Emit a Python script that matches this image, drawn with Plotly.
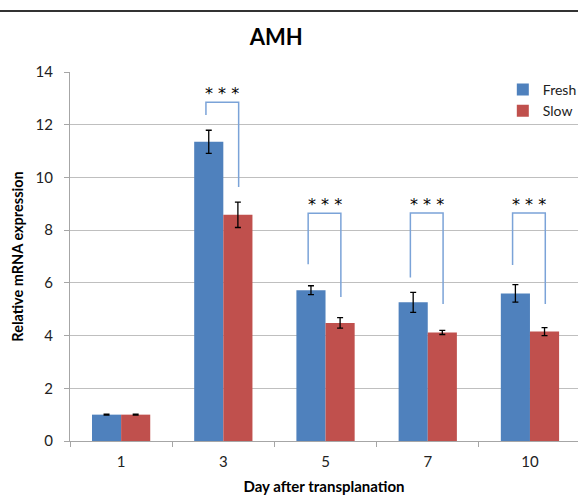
import plotly.graph_objects as go

days = ["1", "3", "5", "7", "10"]
fresh = [1.0, 11.35, 5.72, 5.26, 5.6]
fresh_err = [0.02, 0.44, 0.17, 0.38, 0.33]
slow = [1.0, 8.58, 4.48, 4.12, 4.15]
slow_err = [0.02, 0.48, 0.2, 0.08, 0.15]

# significance brackets: (category index, left foot, top, right foot)
sig_idx = [1, 2, 3, 4]
sig_left = [12.37, 6.71, 6.2, 6.68]
sig_top = [12.85, 8.64, 8.65, 8.65]
sig_right = [9.64, 5.46, 5.2, 5.2]
sig_label = ["* * *", "* * *", "* * *", "* * *"]

x = list(range(len(days)))
FONT = "Lato"

fig = go.Figure()
fig.add_trace(go.Bar(
    x=x, y=fresh, name="Fresh", marker=dict(color="#4f81bd", line=dict(width=0)),
    error_y=dict(type="data", array=fresh_err, color="black", thickness=1.3, width=3),
    offsetgroup="a"))
fig.add_trace(go.Bar(
    x=x, y=slow, name="Slow", marker=dict(color="#c0504d", line=dict(width=0)),
    error_y=dict(type="data", array=slow_err, color="black", thickness=1.3, width=3),
    offsetgroup="b"))

shapes = []
annotations = []
for i, yl, yt, yr, lab in zip(sig_idx, sig_left, sig_top, sig_right, sig_label):
    xl = i - 0.17
    xr = i + 0.15
    shapes.append(dict(type="path", xref="x", yref="y",
                       path=f"M {xl},{yl} L {xl},{yt} L {xr},{yt} L {xr},{yr}",
                       line=dict(color="#7ba3d8", width=1.5)))
    annotations.append(dict(x=(xl + xr) / 2, y=yt, xref="x", yref="y", text=lab,
                            showarrow=False, yanchor="bottom", yshift=-3,
                            font=dict(family="DejaVu Sans", size=16, color="black")))

# top black rule
shapes.append(dict(type="line", xref="paper", yref="paper", x0=-0.2, x1=1.0,
                   y0=1.1653, y1=1.1653, layer="above",
                   line=dict(color="#333333", width=2)))

fig.update_layout(
    width=582, height=498,
    margin=dict(l=70, r=0, t=72, b=57),
    paper_bgcolor="white", plot_bgcolor="white",
    barmode="group", bargap=0.43, bargroupgap=0,
    title=dict(text="<b>AMH</b>", x=0.406, xref="paper", xanchor="center",
               y=0.926, yanchor="middle",
               font=dict(family=FONT, size=22, color="black")),
    font=dict(family=FONT, size=15, color="#222"),
    showlegend=True,
    legend=dict(x=0.852, y=0.995, xanchor="left", yanchor="top",
                bgcolor="rgba(0,0,0,0)", font=dict(size=14, color="#222"),
                itemwidth=30, tracegroupgap=2),
    shapes=shapes, annotations=annotations,
    xaxis=dict(range=[-0.5, 4.47], tickvals=x, ticktext=days, ticks="",
               showgrid=False, zeroline=False, showline=True, linecolor="#a6a6a6",
               linewidth=1.3, ticklabelstandoff=7,
               minor=dict(tickvals=[-0.5, 0.5, 1.5, 2.5, 3.5, 4.5], ticks="outside",
                          ticklen=5, tickcolor="#a6a6a6", showgrid=False),
               tickfont=dict(size=15, color="#222"),
               title=dict(text="<b>Day after transplanation</b>", standoff=12,
                          font=dict(size=15, color="black"))),
    yaxis=dict(range=[0, 14], dtick=2, ticks="outside", ticklen=5, tickcolor="#a6a6a6",
               showgrid=True, gridcolor="#bfbfbf", gridwidth=1.3, zeroline=False,
               showline=True, linecolor="#a6a6a6", linewidth=1.3,
               ticklabelstandoff=8,
               tickfont=dict(size=15, color="#222"),
               title=dict(text="<b>Relative mRNA expression</b>", standoff=8,
                          font=dict(size=14.5, color="black"))),
)

fig.write_html("out.html", config={"displayModeBar": False},
               post_script="document.body.style.margin='0';document.body.style.overflow='hidden';")
